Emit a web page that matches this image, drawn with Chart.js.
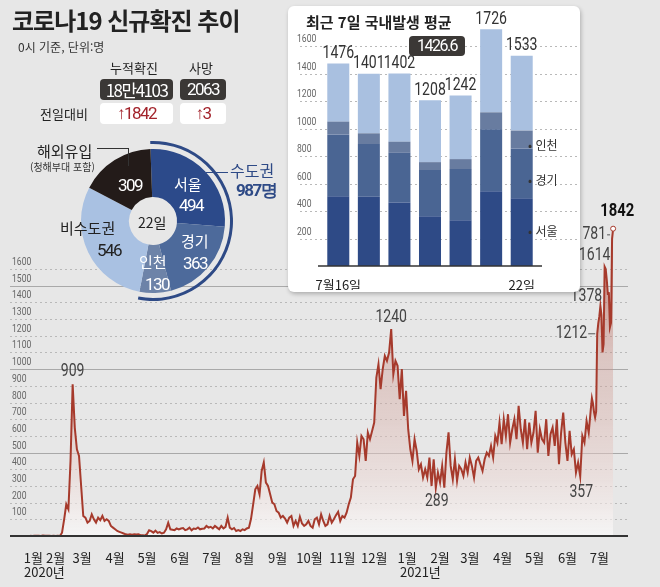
<!DOCTYPE html>
<html lang="ko">
<head>
<meta charset="UTF-8" />
<script src="https://cdn.jsdelivr.net/npm/chart.js"></script>
<title>코로나19 신규확진 추이</title>
<style>
  body { margin: 0; background: #e7e7e7; font-family: "Noto Sans CJK KR", sans-serif; color: #222; }
  .page { position: relative; width: 660px; height: 587px; overflow: hidden; }
  .abs { position: absolute; white-space: nowrap; }
  canvas { position: absolute; }
  #main { left: 0; top: 0; }
  .title { left: 12px; top: 2px; font-size: 24px; font-weight: 700; letter-spacing: -1px; }
  .sub { left: 18px; top: 38px; font-size: 12px; color: #333; }
  .head { font-size: 13px; color: #222; top: 58px; }
  .dark { background: #3b3836; color: #fff; border-radius: 4px; top: 79px; height: 21px; line-height: 21px;
          font-size: 17px; text-align: center; letter-spacing: -1.5px; }
  .white { background: #fff; color: #a3242c; border-radius: 4px; top: 103px; height: 21px; line-height: 21px;
           font-size: 17px; text-align: center; letter-spacing: -1px; }
  .panel { left: 288px; top: 6px; width: 292px; height: 286px; background: #fff; border-radius: 6px;
           box-shadow: 1px 2px 4px rgba(0,0,0,0.25); }
  .num { letter-spacing: -1.5px; font-family: "Roboto", sans-serif; }
</style>
</head>
<body>
<div class="page">
  <canvas id="main" width="660" height="587"></canvas>

  <div class="abs title">코로나19 신규확진 추이</div>
  <div class="abs sub">0시 기준, 단위:명</div>
  <div class="abs head" style="left:110px">누적확진</div>
  <div class="abs head" style="left:189px">사망</div>
  <div class="abs dark" style="left:100px;width:73px">18만4103</div>
  <div class="abs dark num" style="left:180px;width:46px">2063</div>
  <div class="abs" style="left:40px;top:104px;font-size:13px">전일대비</div>
  <div class="abs white num" style="left:100px;width:73px"><b>↑</b>1842</div>
  <div class="abs white num" style="left:180px;width:46px"><b>↑</b>3</div>

  <div class="panel abs"></div>
  <div class="abs" style="left:306px;top:11px;font-size:15px;font-weight:700">최근 7일 국내발생 평균</div>
  <canvas id="week" width="288" height="280" style="left:290px;top:10px"></canvas>
  <div class="abs num" style="left:409px;top:36px;width:56px;height:20px;line-height:20px;background:#3b3836;color:#fff;border-radius:4px;text-align:center;font-size:16px">1426.6</div>
  <div class="abs" style="left:528px;top:136px;font-size:12px;color:#333">• 인천</div>
  <div class="abs" style="left:528px;top:171px;font-size:12px;color:#333">• 경기</div>
  <div class="abs" style="left:528px;top:222px;font-size:12px;color:#333">• 서울</div>

  <canvas id="donut" width="170" height="170" style="left:68px;top:136px"></canvas>
  <div class="abs" style="left:37px;top:140px;font-size:15px">해외유입</div>
  <div class="abs" style="left:30px;top:159px;font-size:10px;color:#333">(청해부대 포함)</div>
  <div class="abs" style="left:97px;top:148px;width:31px;height:17px;border-top:1px solid #333;border-right:1px solid #333"></div>
  <div class="abs" style="left:206px;top:172px;width:22px;border-top:1px solid #2e4a86"></div>
  <div class="abs" style="left:230px;top:158px;font-size:16px;color:#2e4a86">수도권</div>
  <div class="abs num" style="left:236px;top:179px;font-size:17px;color:#2e4a86;font-weight:700">987명</div>
  <div class="abs" style="left:60px;top:217px;font-size:15px">비수도권</div>
  <div class="abs num" style="left:97px;top:240px;font-size:17px">546</div>
  <div class="abs num" style="left:118px;top:175px;font-size:17px;color:#fff">309</div>
  <div class="abs" style="left:174px;top:173px;font-size:15px;color:#fff">서울</div>
  <div class="abs num" style="left:179px;top:195px;font-size:17px;color:#fff">494</div>
  <div class="abs" style="left:181px;top:230px;font-size:15px;color:#fff">경기</div>
  <div class="abs num" style="left:183px;top:253px;font-size:17px;color:#fff">363</div>
  <div class="abs" style="left:139px;top:251px;font-size:15px;color:#fff">인천</div>
  <div class="abs num" style="left:145px;top:274px;font-size:17px;color:#fff">130</div>
  <div class="abs" style="left:138px;top:212px;font-size:14px">22일</div>

  <div class="abs" style="left:24px;top:562px;font-size:13px">2020년</div>
  <div class="abs" style="left:400px;top:562px;font-size:13px">2021년</div>
</div>
<script>
// daily confirmed cases, every 2nd day from 2020-01-20 to 2021-06-29
const casesBiDaily = [
  1, 0, 1, 2, 1, 0, 3, 2, 1, 1,
  0, 2, 0, 1, 0, 20, 100, 190, 160, 450,
  909,
  650, 520, 480, 300, 120, 110, 80, 90, 130, 100,
  80, 110, 95, 120, 90, 100, 90, 60, 50, 40,
  30, 25, 20, 15, 10, 8, 10, 8, 10, 9,
  10, 5, 4, 3, 12, 34, 29, 20, 32, 19,
  23, 15, 20, 40, 79, 40, 38, 35, 45, 40,
  45, 48, 35, 40, 50, 34, 45, 42, 51, 40,
  43, 45, 60, 50, 55, 45, 60, 50, 40, 60,
  45, 55, 110, 50, 40, 48, 30, 35, 30, 40,
  35, 45, 50, 103, 190, 280, 300, 250, 390, 441,
  320, 300, 250, 200, 190, 150, 140, 110, 120, 105,
  80, 110, 120, 60, 90, 60, 115, 75, 60, 70,
  90, 60, 50, 100, 110, 70, 130, 90, 60, 70,
  120, 80, 100, 125, 145, 90, 120, 110, 140, 190,
  230, 340, 360, 560, 480, 600, 580, 450, 620, 580,
  630, 680, 950, 1030, 880, 1000, 1080, 1050, 1100, 1240,
  970, 1050, 1020, 820, 1000, 720, 870, 640, 520, 450,
  580, 510, 400, 430, 350, 400, 350, 470, 300, 460,
  289,
  380, 320, 420, 290, 500, 621, 420, 340, 460,
  330, 420, 400, 360, 440, 380, 470, 420, 350, 450,
  470, 430, 390, 460, 500, 480, 540, 470, 600, 560,
  680, 550, 700, 600, 730, 560, 640, 700, 580, 780,
  640, 560, 700, 520, 680, 560, 620, 750, 500, 640,
  580, 560, 700, 480, 610, 650, 540, 700, 430, 620,
  740, 560, 450, 630, 490, 520, 380, 440,
  357,
  600, 560, 690, 620
];
// daily, 2021-07-01 .. 2021-07-22
const casesJuly = [762, 826, 794, 743, 711, 746, 1212, 1275, 1316, 1378, 1324,
  1100, 1150, 1614, 1600, 1536, 1452, 1454, 1252, 1278, 1781, 1842];

const monthLabels = ['1월', '2월', '3월', '4월', '5월', '6월', '7월', '8월', '9월', '10월', '11월', '12월',
  '1월', '2월', '3월', '4월', '5월', '6월', '7월'];
const yTicks = [100, 200, 300, 400, 500, 600, 700, 800, 900, 1000, 1100, 1200, 1300, 1400, 1500, 1600];

const weekLabels = ['7월16일', '', '', '', '', '', '22일'];
const weekTotals = [1476, 1401, 1402, 1208, 1242, 1726, 1533];
const weekSeoul = [509, 504, 463, 363, 334, 545, 494];
const weekGyeonggi = [450, 385, 362, 336, 372, 451, 363];
const weekIncheon = [93, 78, 81, 58, 73, 124, 130];
const weekTicks = [200, 400, 600, 800, 1000, 1200, 1400, 1600];

const donutLabels = ['서울', '경기', '인천', '비수도권', '해외유입'];
const donutValues = [494, 363, 130, 546, 309];
const capitalArea = 987;

// day index since 2020-01-01
const DAY = 86400000;
const dayOf = (y, m, d) => (Date.UTC(y, m, d) - Date.UTC(2020, 0, 1)) / DAY;
const points = [];
casesBiDaily.forEach((v, i) => points.push({ x: dayOf(2020, 0, 20) + 2 * i, y: v }));
casesJuly.forEach((v, i) => points.push({ x: dayOf(2021, 6, 1) + i, y: v }));
const monthTicks = monthLabels.map((m, i) => dayOf(2020, i, 1) + 8);
monthTicks[0] += 14; monthTicks[1] += 4;   // first two labels are squeezed right in the original

// label offsets from their points
const callouts = [
  { i: 20, t: '909', dx: 0, dy: -13 },
  { i: 170, t: '1240', dx: 0, dy: -12 },
  { i: 191, t: '289', dx: 1, dy: 14 },
  { i: 259, t: '357', dx: 1, dy: 16 },
  { i: 270, t: '1212', dx: -10, dy: 0, right: true, lead: true },
  { i: 273, t: '1378', dx: -14, dy: -10 },
  { i: 277, t: '1614', dx: -10, dy: -11 },
  { i: 284, t: '1781', dx: -6, dy: -4, right: true, lead: true },
  { i: 285, t: '1842', dx: 4, dy: -17, bold: true },
];

const NUMFONT = 'Roboto, sans-serif';

// condensed look of the original numerals
function narrowText(ctx, text, x, y, align) {
  ctx.save();
  ctx.translate(x, y);
  ctx.scale(0.78, 1);
  ctx.textAlign = align;
  ctx.fillText(text, 0, 0);
  ctx.restore();
}

function drawGrid(chart, ticks, x0, x1, solidEvery, labelX) {
  const ctx = chart.ctx;
  const y = chart.scales.y;
  ctx.save();
  ctx.font = '11px ' + NUMFONT;
  ctx.textBaseline = 'middle';
  ticks.forEach(v => {
    const py = Math.round(y.getPixelForValue(v)) + 0.5;
    const solid = solidEvery && v % solidEvery === 0;
    ctx.strokeStyle = solid ? '#a9a9a9' : '#b9b9b9';
    ctx.lineWidth = 1;
    ctx.setLineDash(solid ? [] : [2, 3]);
    ctx.beginPath();
    ctx.moveTo(x0, py);
    ctx.lineTo(x1, py);
    ctx.stroke();
    ctx.fillStyle = '#666';
    narrowText(ctx, String(v), labelX, py - 7, 'left');
  });
  ctx.restore();
}

new Chart(document.getElementById('main'), {
  type: 'line',
  data: {
    datasets: [{
      data: points,
      borderColor: '#a63a2c',
      borderWidth: 2,
      pointRadius: ctx => ctx.dataIndex === points.length - 1 ? 2.5 : 0,
      pointBackgroundColor: '#fff',
      pointBorderColor: '#a63a2c',
      pointBorderWidth: 1,
      tension: 0,
      fill: 'origin',
      backgroundColor: ctx => {
        const a = ctx.chart.chartArea;
        if (!a) return 'rgba(166,58,44,0.2)';
        const g = ctx.chart.ctx.createLinearGradient(0, a.top, 0, a.bottom);
        g.addColorStop(0, 'rgba(166,58,44,0.75)');
        g.addColorStop(0.45, 'rgba(200,140,130,0.35)');
        g.addColorStop(1, 'rgba(255,255,255,0.6)');
        return g;
      },
    }],
  },
  options: {
    responsive: false,
    animation: false,
    layout: { padding: { left: 10, right: 32, top: 219, bottom: 0 } },
    plugins: { legend: { display: false }, tooltip: { enabled: false } },
    scales: {
      x: {
        type: 'linear',
        min: 0,
        max: 582,
        grid: { display: false },
        border: { display: false },
        afterBuildTicks: s => { s.ticks = monthTicks.map(v => ({ value: v })); },
        afterFit: s => { s.height = 51; },
        ticks: {
          autoSkip: false,
          maxRotation: 0,
          padding: 6,
          color: '#222',
          font: { size: 13, family: '"Noto Sans CJK KR", sans-serif' },
          callback: (v, i) => monthLabels[i],
        },
      },
      y: {
        min: 0,
        max: 1900,
        display: false,
      },
    },
  },
  plugins: [{
    id: 'gridAndLabels',
    beforeDatasetsDraw(chart) {
      drawGrid(chart, yTicks, 10, 628, 500, 12);
    },
    afterDatasetsDraw(chart) {
      const ctx = chart.ctx;
      const a = chart.chartArea;
      ctx.save();
      ctx.strokeStyle = '#333';
      ctx.lineWidth = 2;
      ctx.beginPath();
      ctx.moveTo(10, a.bottom);
      ctx.lineTo(628, a.bottom);
      ctx.stroke();
      const meta = chart.getDatasetMeta(0);
      callouts.forEach(c => {
        const p = meta.data[c.i];
        ctx.font = (c.bold ? 'bold 19px ' : '18px ') + NUMFONT;
        ctx.fillStyle = c.bold ? '#111' : '#444';
        ctx.textBaseline = 'middle';
        narrowText(ctx, c.t, p.x + c.dx, p.y + c.dy, c.right ? 'right' : 'center');
        if (c.lead) {
          ctx.strokeStyle = '#555';
          ctx.lineWidth = 1;
          ctx.beginPath();
          ctx.moveTo(p.x + c.dx + 1, p.y + c.dy);
          ctx.lineTo(p.x - 2, p.y + c.dy);
          ctx.stroke();
        }
      });
      ctx.restore();
    },
  }],
});

new Chart(document.getElementById('week'), {
  type: 'bar',
  data: {
    labels: weekLabels,
    datasets: [
      { data: weekSeoul, backgroundColor: '#2e4a86' },
      { data: weekGyeonggi, backgroundColor: '#4a6593' },
      { data: weekIncheon, backgroundColor: '#687ca0' },
      { data: weekTotals.map((t, i) => t - weekSeoul[i] - weekGyeonggi[i] - weekIncheon[i]), backgroundColor: '#a9c0e0' },
    ],
  },
  options: {
    responsive: false,
    animation: false,
    layout: { padding: { left: 33, right: 41, top: 9, bottom: 0 } },
    plugins: { legend: { display: false }, tooltip: { enabled: false } },
    datasets: { bar: { barPercentage: 0.72, categoryPercentage: 1 } },
    scales: {
      x: {
        stacked: true,
        grid: { display: false },
        border: { display: false },
        afterFit: s => { s.height = 24; },
        ticks: { color: '#222', padding: 3, maxRotation: 0, autoSkip: false, font: { size: 13, family: '"Noto Sans CJK KR", sans-serif' } },
      },
      y: { stacked: true, min: 0, max: 1800, display: false },
    },
  },
  plugins: [{
    id: 'weekDeco',
    beforeDatasetsDraw(chart) {
      drawGrid(chart, weekTicks, 10, 287, 0, 7);
    },
    afterDatasetsDraw(chart) {
      const ctx = chart.ctx;
      const a = chart.chartArea;
      ctx.save();
      ctx.strokeStyle = '#333';
      ctx.lineWidth = 1.5;
      ctx.beginPath();
      ctx.moveTo(28, a.bottom);
      ctx.lineTo(a.right + 5, a.bottom);
      ctx.stroke();
      const top = chart.getDatasetMeta(3);
      ctx.font = '18px ' + NUMFONT;
      ctx.fillStyle = '#333';
      ctx.textBaseline = 'bottom';
      weekTotals.forEach((t, i) => narrowText(ctx, String(t), top.data[i].x, top.data[i].y - 1, 'center'));
      ctx.restore();
    },
  }],
});

new Chart(document.getElementById('donut'), {
  type: 'doughnut',
  data: {
    labels: donutLabels,
    datasets: [
      { data: [capitalArea, 1842 - capitalArea], backgroundColor: ['#2e4a86', 'rgba(0,0,0,0)'], borderWidth: 0, weight: 3 },
      { data: [1], backgroundColor: ['rgba(0,0,0,0)'], borderWidth: 0, weight: 5 },
      { data: donutValues, backgroundColor: ['#2c4a8a', '#4d6a9b', '#6d83a8', '#a9c1e2', '#231b19'], borderWidth: 0, weight: 48 },
    ],
  },
  options: {
    responsive: false,
    animation: false,
    cutout: 24,
    rotation: -2,
    layout: { padding: 5 },
    plugins: { legend: { display: false }, tooltip: { enabled: false } },
  },
});
</script>
</body>
</html>
